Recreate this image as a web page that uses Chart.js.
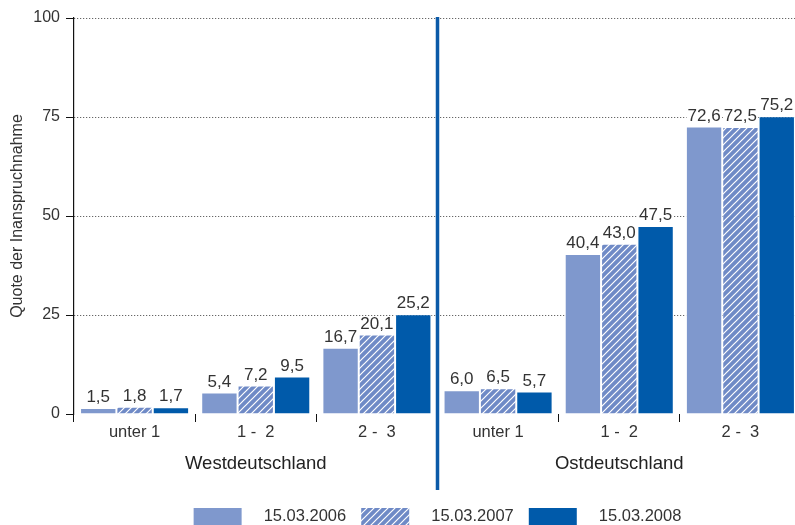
<!DOCTYPE html>
<html>
<head>
<meta charset="utf-8">
<script src="https://cdn.jsdelivr.net/npm/chart.js@4.4.1/dist/chart.umd.min.js"></script>
<style>
  html, body { margin: 0; padding: 0; background: #fff; overflow: hidden; }
  #wrap { width: 801px; height: 525px; }
</style>
</head>
<body>
<div id="wrap"><canvas id="c1"></canvas></div>
<script>
// Quote der Inanspruchnahme nach Alter, West/Ost
var ageGroups = ["unter 1", "1 -  2", "2 -  3", "unter 1", "1 -  2", "2 -  3"];
var regions = ["Westdeutschland", "Ostdeutschland"];
var dates = ["15.03.2006", "15.03.2007", "15.03.2008"];
var q2006 = [1.5, 5.4, 16.7, 6.0, 40.4, 72.6];
var q2007 = [1.8, 7.2, 20.1, 6.5, 43.0, 72.5];
var q2008 = [1.7, 9.5, 25.2, 5.7, 47.5, 75.2];
var yTicks = [0, 25, 50, 75, 100];

var txt = "#333333";
var fam = "'Liberation Sans', Arial, sans-serif";

function hatch(base) {
  var c = document.createElement("canvas");
  c.width = 7; c.height = 7;
  var g = c.getContext("2d");
  g.fillStyle = base;
  g.fillRect(0, 0, 7, 7);
  g.strokeStyle = "#ffffff";
  g.lineWidth = 1.2;
  g.beginPath();
  g.moveTo(-1, 8); g.lineTo(8, -1);
  g.moveTo(-2, 2); g.lineTo(2, -2);
  g.moveTo(5, 9); g.lineTo(9, 5);
  g.stroke();
  return g.createPattern(c, "repeat");
}

// value labels with white box behind
var valueLabels = {
  id: "valueLabels",
  afterDatasetsDraw: function (chart) {
    var ctx = chart.ctx;
    ctx.save();
    ctx.font = "17px " + fam;
    ctx.textAlign = "center";
    ctx.textBaseline = "bottom";
    chart.data.datasets.forEach(function (ds, i) {
      chart.getDatasetMeta(i).data.forEach(function (bar, j) {
        var s = ds.data[j].toFixed(1).replace(".", ",");
        var w = ctx.measureText(s).width;
        var y = bar.y - 2;
        ctx.fillStyle = "#ffffff";
        ctx.fillRect(bar.x - w / 2 - 1, y - 16, w + 2, 16);
        ctx.fillStyle = txt;
        ctx.fillText(s, bar.x, y);
      });
    });
    ctx.restore();
  }
};

// blue divider between West and Ost
var divider = {
  id: "divider",
  afterDraw: function (chart) {
    var x = chart.scales.x;
    var px = (x.getPixelForValue(2) + x.getPixelForValue(3)) / 2;
    var ctx = chart.ctx;
    ctx.save();
    ctx.strokeStyle = "#0b5aa8";
    ctx.lineWidth = 3.5;
    ctx.beginPath();
    ctx.moveTo(px, chart.chartArea.top - 1);
    ctx.lineTo(px, 490);
    ctx.stroke();
    ctx.restore();
  }
};

var ctx = document.getElementById("c1").getContext("2d");
var chart = new Chart(ctx, {
  type: "bar",
  data: {
    labels: ageGroups,
    datasets: [
      { label: dates[0], data: q2006, backgroundColor: "#7f98cd", borderColor: "#ffffff", borderWidth: 1, borderSkipped: "bottom" },
      { label: dates[1], data: q2007, backgroundColor: hatch("#6f8ac6"), borderColor: "#ffffff", borderWidth: 1, borderSkipped: "bottom" },
      { label: dates[2], data: q2008, backgroundColor: "#005aaa", borderColor: "#ffffff", borderWidth: 1, borderSkipped: "bottom" }
    ]
  },
  options: {
    responsive: true,
    maintainAspectRatio: false,
    animation: false,
    layout: { padding: { top: 18, right: 0, bottom: -10, left: 0 } },
    datasets: { bar: { categoryPercentage: 0.9, barPercentage: 1 } },
    plugins: {
      tooltip: { enabled: false },
      legend: {
        position: "bottom",
        fullSize: false,
        labels: {
          boxWidth: 48,
          boxHeight: 17,
          padding: 15,
          color: txt,
          font: { family: fam, size: 16.5 },
          generateLabels: function (c) {
            var items = Chart.defaults.plugins.legend.labels.generateLabels(c);
            items.forEach(function (it) {
              it.text = "   " + it.text;
              it.strokeStyle = "#ffffff";
              it.lineWidth = 0;
            });
            return items;
          }
        }
      }
    },
    scales: {
      y: {
        min: 0,
        max: 100,
        afterBuildTicks: function (s) {
          s.ticks = yTicks.map(function (v) { return { value: v }; });
        },
        afterFit: function (s) { s.width = 74; },
        title: {
          display: true,
          text: "Quote der Inanspruchnahme",
          color: txt,
          font: { family: fam, size: 16 },
          padding: { top: 8, bottom: 0 }
        },
        ticks: { color: txt, font: { family: fam, size: 16 }, padding: 6 },
        grid: {
          color: function (c) { return c.tick && c.tick.value === 0 ? "rgba(0,0,0,0)" : "#444444"; },
          tickColor: "#111111",
          tickLength: 8,
          lineWidth: 1
        },
        border: { display: true, color: "#111111", width: 1.2, dash: [1, 2] }
      },
      x: {
        offset: true,
        afterFit: function (s) { s.height = 35; },
        ticks: { color: txt, font: { family: fam, size: 16.5 }, padding: 1 },
        grid: {
          offset: true,
          drawOnChartArea: false,
          tickLength: 8,
          tickColor: "#111111"
        },
        border: { display: false }
      },
      x2: {
        type: "category",
        position: "bottom",
        labels: regions,
        offset: true,
        afterFit: function (s) { s.height = 44; },
        ticks: { color: "#222222", font: { family: fam, size: 18.5 }, padding: 4 },
        grid: { display: false, drawTicks: false },
        border: { display: false }
      }
    }
  },
  plugins: [valueLabels, divider]
});
</script>
</body>
</html>
